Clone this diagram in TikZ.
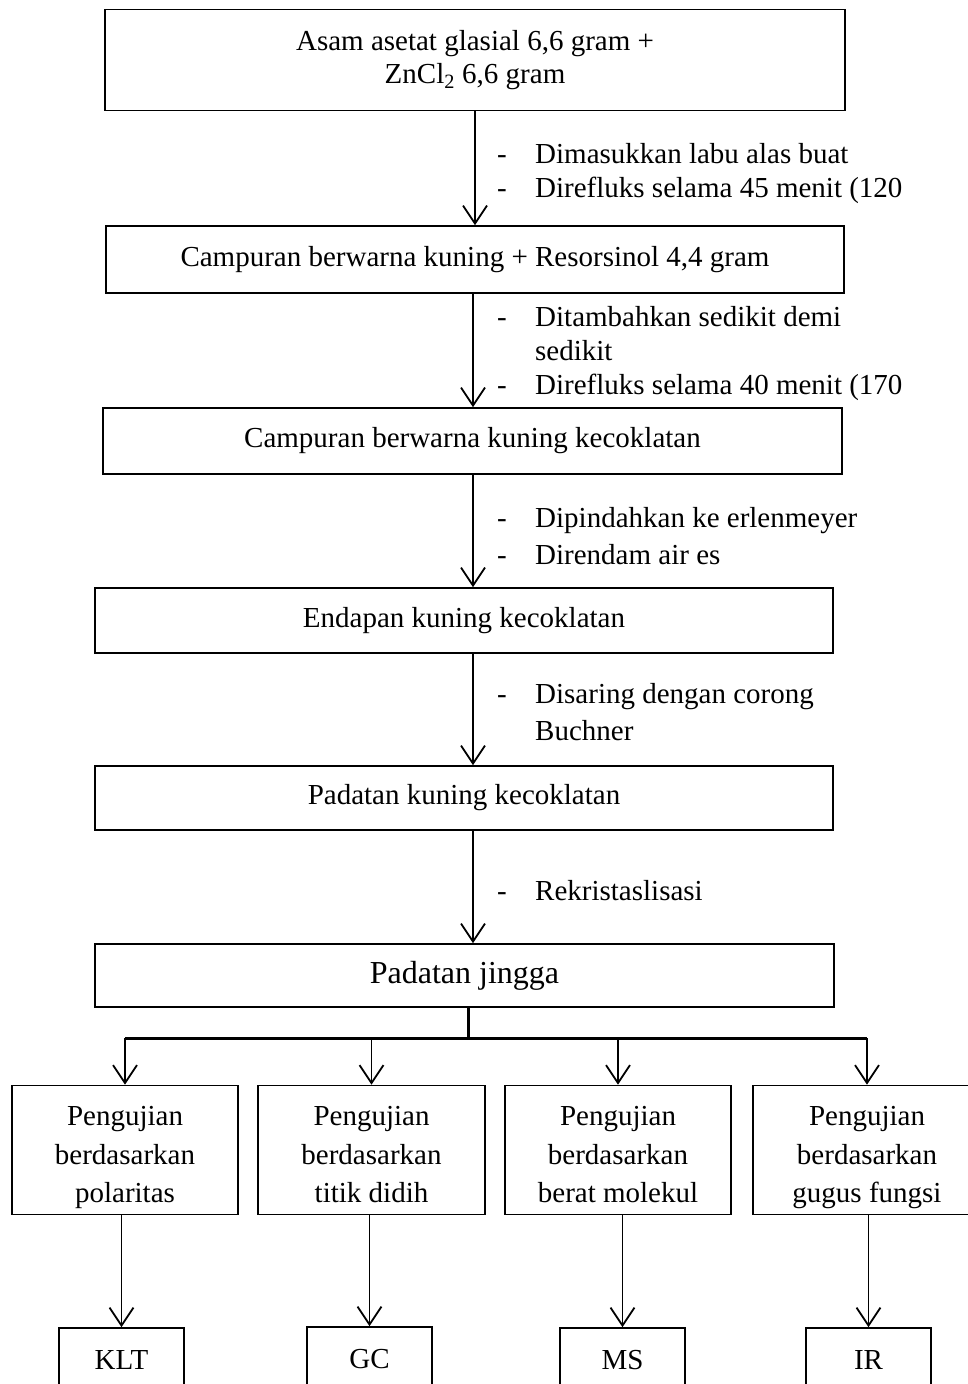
\documentclass[tikz,border=0pt]{standalone}
\usepackage{fontspec}
\setmainfont{Liberation Serif}
\usetikzlibrary{arrows.meta}
\newcommand{\ujitiga}[3]{\begin{tabular}{@{}c@{}}\rule{0pt}{40pt}#1\\#2\\#3\end{tabular}}
\tikzset{
    kotak/.style={draw, line width=1.6pt, inner sep=0pt, align=center,
        font=\fontsize{29}{38.5}\selectfont},
    kotakuji/.style={kotak, minimum height=129},
    panah/.style={line width=1.8pt, -{Straight Barb[length=18pt,width=24pt]}},
    batang/.style={line width=3pt},
    catatan/.style={anchor=base west, inner sep=0pt,
        font=\fontsize{29}{34}\selectfont},
}

\begin{document}
\begin{tikzpicture}[x=1pt,y=-1pt]
\useasboundingbox (0,0) rectangle (968,1384);
\clip (0,0) rectangle (968,1384);

% alur utama
\node[kotak, minimum width=740, minimum height=101, font=\fontsize{29}{33}\selectfont] (asam) at (475,60) {Asam asetat glasial 6,6 gram +\\ZnCl\textsubscript{2} 6,6 gram};
\node[kotak, minimum width=738, minimum height=67] (campuran) at (475,259.5) {Campuran berwarna kuning + Resorsinol 4,4 gram};
\node[kotak, minimum width=739, minimum height=66] (coklat) at (472.5,441) {Campuran berwarna kuning kecoklatan};
\node[kotak, minimum width=738, minimum height=65] (endapan) at (464,620.5) {Endapan kuning kecoklatan};
\node[kotak, minimum width=738, minimum height=64] (padatan) at (464,798) {Padatan kuning kecoklatan};
\node[kotak, minimum width=739, minimum height=63, font=\fontsize{32}{38}\selectfont] (jingga) at (464.5,975.5) {Padatan jingga};

\coordinate (kol) at (473,0);
\draw[panah] (asam) -- (campuran);
\draw[panah] (campuran.south -| kol) -- (coklat.north -| kol);
\draw[panah] (coklat.south -| kol) -- (endapan.north -| kol);
\draw[panah] (endapan.south -| kol) -- (padatan.north -| kol);
\draw[panah] (padatan.south -| kol) -- (jingga.north -| kol);

\node[catatan] (ket1) at (497,163) {\begin{tabular}[t]{@{}p{38pt}@{}l@{}}
-&Dimasukkan labu alas buat\\
-&Direfluks selama 45 menit (120\end{tabular}};
\node[catatan] (ket2) at (497,326) {\begin{tabular}[t]{@{}p{38pt}@{}l@{}}
-&Ditambahkan sedikit demi\\
&sedikit\\
-&Direfluks selama 40 menit (170\end{tabular}};
\node[catatan] (ket3) at (497,527) {\begin{tabular}[t]{@{}p{38pt}@{}l@{}}
-&Dipindahkan ke erlenmeyer\\[3pt]
-&Direndam air es\end{tabular}};
\node[catatan] (ket4) at (497,703) {\begin{tabular}[t]{@{}p{38pt}@{}l@{}}
-&Disaring dengan corong\\[3pt]
&Buchner\end{tabular}};
\node[catatan] (ket5) at (497,900) {\begin{tabular}[t]{@{}p{38pt}@{}l@{}}
-&Rekristaslisasi\end{tabular}};

% pengujian
\node[kotakuji, minimum width=226] (uji1) at (125,1150) {\ujitiga{Pengujian}{berdasarkan}{polaritas}};
\node[kotakuji, minimum width=227] (uji2) at (371.5,1150) {\ujitiga{Pengujian}{berdasarkan}{titik didih}};
\node[kotakuji, minimum width=226] (uji3) at (618,1150) {\ujitiga{Pengujian}{berdasarkan}{berat molekul}};
\node[kotakuji, minimum width=228] (uji4) at (867,1150) {\ujitiga{Pengujian}{berdasarkan}{gugus fungsi}};

\coordinate (cabang) at (468,1038);
\draw[batang] (jingga.south -| cabang) -- (cabang);
\draw[batang] (uji1.north |- cabang) -- (uji4.north |- cabang);
\foreach \u in {uji1,uji2,uji3,uji4}
    \draw[panah] (\u.north |- cabang) -- (\u.north);

\node[kotak, minimum width=125, minimum height=64] (klt) at (121.5,1360) {KLT};
\node[kotak, minimum width=125, minimum height=64] (gc) at (369.5,1359) {GC};
\node[kotak, minimum width=125, minimum height=64] (ms) at (622.5,1360) {MS};
\node[kotak, minimum width=125, minimum height=64] (ir) at (868.5,1360) {IR};

\draw[panah] (uji1.south -| klt) -- (klt);
\draw[panah] (uji2.south -| gc) -- (gc);
\draw[panah] (uji3.south -| ms) -- (ms);
\draw[panah] (uji4.south -| ir) -- (ir);
\end{tikzpicture}
\end{document}
